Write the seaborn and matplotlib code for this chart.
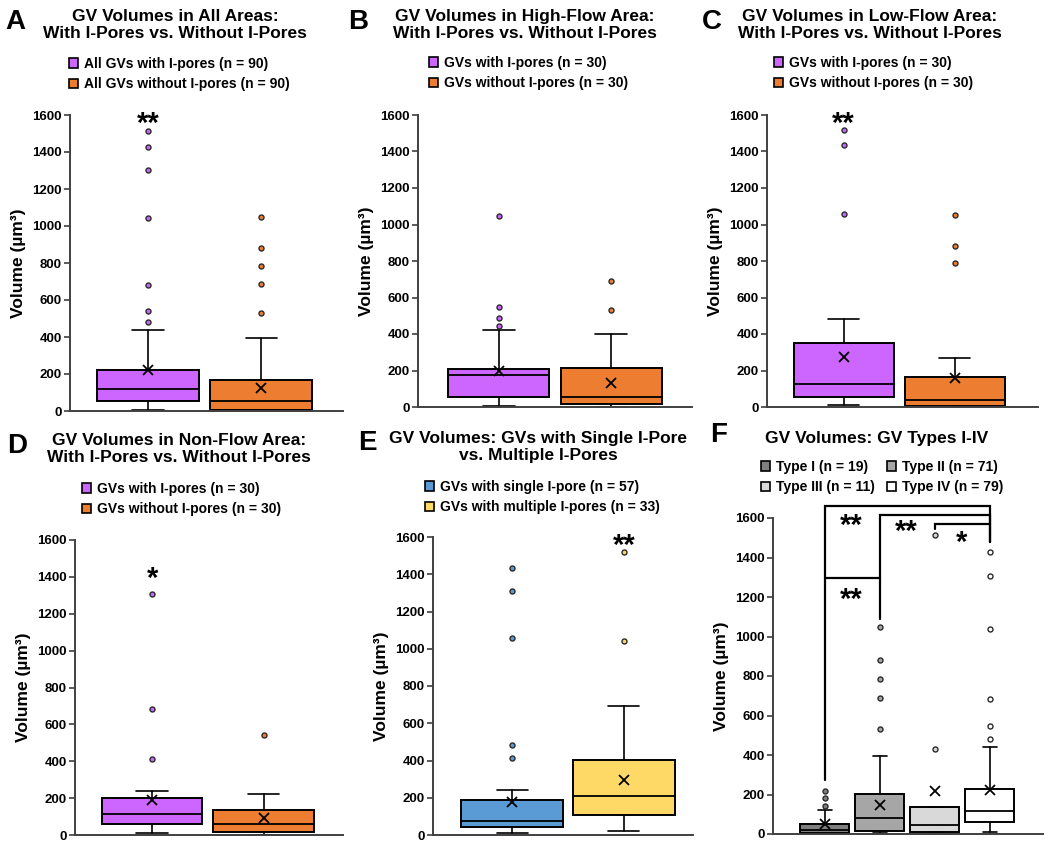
import seaborn as sns
import matplotlib.pyplot as plt
from matplotlib.patches import Patch

sns.set_style('ticks')
plt.rcParams['font.family'] = ['Liberation Sans', 'DejaVu Sans']
plt.rcParams['font.weight'] = 'bold'
plt.rcParams['text.color'] = 'black'
plt.rcParams['axes.labelcolor'] = 'black'
plt.rcParams['ytick.color'] = 'black'

# five-number summaries: whisker low, q1, median, q3, whisker high
a_labels = ['All GVs with I-pores (n = 90)', 'All GVs without I-pores (n = 90)']
a_stats = [[4, 54, 117, 220, 437], [0, 7, 54, 170, 393]]
a_means = [220, 125]
a_outliers = [[482, 541, 682, 1041, 1305, 1429, 1513], [529, 686, 785, 879, 1049]]

b_labels = ['GVs with I-pores (n = 30)', 'GVs without I-pores (n = 30)']
b_stats = [[7, 55, 173, 208, 423], [0, 18, 55, 215, 398]]
b_means = [199, 131]
b_outliers = [[442, 487, 547, 1046], [533, 692]]

c_labels = ['GVs with I-pores (n = 30)', 'GVs without I-pores (n = 30)']
c_stats = [[9, 55, 124, 349, 484], [0, 4, 36, 162, 266]]
c_means = [276, 159]
c_outliers = [[1060, 1434, 1518], [788, 881, 1051]]

d_labels = ['GVs with I-pores (n = 30)', 'GVs without I-pores (n = 30)']
d_stats = [[13, 60, 116, 202, 240], [0, 18, 58, 134, 221]]
d_means = [190, 92]
d_outliers = [[414, 683, 1309], [541]]

e_labels = ['GVs with single I-pore (n = 57)', 'GVs with multiple I-pores (n = 33)']
e_stats = [[9, 45, 75, 186, 242], [20, 106, 211, 403, 690]]
e_means = [176, 296]
e_outliers = [[414, 484, 1057, 1308, 1432], [1043, 1518]]

f_labels = ['Type I (n = 19)', 'Type II (n = 71)', 'Type III (n = 11)', 'Type IV (n = 79)']
f_stats = [[0, 5, 18, 52, 123], [5, 17, 81, 202, 396],
           [12, 12, 45, 136, 136], [8, 61, 116, 227, 439]]
f_means = [49, 145, 219, 224]
f_outliers = [[140, 180, 220], [530, 688, 786, 880, 1049],
              [431, 1515], [483, 545, 684, 1040, 1306, 1429]]

# significance marks: (box position, y, text)
a_sig = [(0, 1600, '**')]
c_sig = [(0, 1600, '**')]
d_sig = [(0, 1440, '*')]
e_sig = [(1, 1600, '**')]
f_sig = [(0.48, 1610, '**'), (1.48, 1580, '**'), (2.48, 1525, '*'), (0.48, 1235, '**')]
# brackets: (left, right, top, left foot, right foot)
f_brackets = [(0, 3, 1660, 274, 1476), (1, 3, 1616, 1091, 1476),
              (2, 3, 1569, 1545, 1569), (0, 1, 1296, 1296, 1296)]

purple, orange = '#cc66ff', '#ed7d31'
blue, yellow = '#5b9bd5', '#ffd966'
grays = ['#7f7f7f', '#a6a6a6', '#d9d9d9', '#ffffff']

W, H = 1050, 848
fig = plt.figure(figsize=(W / 100, H / 100), dpi=100)


def px_axes(l, r, t, b):
    return fig.add_axes([l / W, 1 - b / H, (r - l) / W, (b - t) / H])


def panel(ax, stats, means, outliers, colors, xlim, width, capw):
    bstats = []
    for s, m, o in zip(stats, means, outliers):
        bstats.append(dict(whislo=s[0], q1=s[1], med=s[2], q3=s[3], whishi=s[4],
                           mean=m, fliers=o))
    art = ax.bxp(bstats, positions=range(len(stats)), widths=width,
                 patch_artist=True, showmeans=True, capwidths=capw,
                 boxprops=dict(edgecolor='black', linewidth=1.4),
                 medianprops=dict(color='black', linewidth=1.3),
                 whiskerprops=dict(color='black', linewidth=1.2),
                 capprops=dict(color='black', linewidth=1.2),
                 meanprops=dict(marker='x', markeredgecolor='black',
                                markersize=7, markeredgewidth=1.3),
                 flierprops=dict(marker='o', markersize=3.6, markeredgecolor='#2a2a2a',
                                 markeredgewidth=1))
    for box, fl, col in zip(art['boxes'], art['fliers'], colors):
        box.set_facecolor(col)
        fl.set_markerfacecolor(col)
    ax.set_xlim(*xlim)
    ax.set_ylim(0, 1600)
    ax.set_yticks(range(0, 1601, 200))
    ax.set_xticks([])
    ax.tick_params(axis='y', labelsize=9.5, length=4, width=1.2, color='#404040', pad=2)
    for lab in ax.get_yticklabels():
        lab.set_fontweight('bold')
    for side in ['top', 'right']:
        ax.spines[side].set_visible(False)
    for side in ['left', 'bottom']:
        ax.spines[side].set_color('#404040')
        ax.spines[side].set_linewidth(1.4)
    ax.set_ylabel('Volume (µm³)', fontsize=12.5, fontweight='bold', labelpad=4)


def add_legend(ax, labels, colors, x, y, ncol=1):
    handles = [Patch(facecolor=c, edgecolor='black', linewidth=1.2) for c in colors]
    if ncol == 2:
        handles = [handles[0], handles[2], handles[1], handles[3]]
        labels = [labels[0], labels[2], labels[1], labels[3]]
    ax.legend(handles, labels, loc='upper left', bbox_to_anchor=(x / W, 1 - y / H),
              bbox_transform=fig.transFigure, frameon=False, ncol=ncol,
              prop=dict(size=10, weight='bold'), handlelength=0.65, handleheight=0.65,
              handletextpad=0.4, labelspacing=0.45, borderpad=0, borderaxespad=0,
              columnspacing=0.9)


def add_sig(ax, marks):
    # asterisks sit high in the glyph box, so anchor them lower
    for x, y, t in marks:
        ax.text(x, y - 50, t, ha='center', va='center', fontsize=21, fontweight='bold',
                clip_on=False)


titles = [
    ('A', 15, 22, 175, 25, 'GV Volumes in All Areas:\nWith I-Pores vs. Without I-Pores'),
    ('B', 358, 22, 525, 25, 'GV Volumes in High-Flow Area:\nWith I-Pores vs. Without I-Pores'),
    ('C', 712, 22, 870, 25, 'GV Volumes in Low-Flow Area:\nWith I-Pores vs. Without I-Pores'),
    ('D', 17, 446, 179, 449, 'GV Volumes in Non-Flow Area:\nWith I-Pores vs. Without I-Pores'),
    ('E', 367, 443, 538, 447, 'GV Volumes: GVs with Single I-Pore\nvs. Multiple I-Pores'),
    ('F', 719, 435, 877, 438, 'GV Volumes: GV Types I-IV'),
]
for letter, lx, ly, tx, ty, title in titles:
    fig.text(lx / W, 1 - ly / H, letter, fontsize=20, fontweight='bold',
             ha='center', va='center')
    fig.text(tx / W, 1 - ty / H, title, fontsize=12.5, fontweight='bold',
             ha='center', va='center', linespacing=1.2)

ax = px_axes(70, 343, 115, 411)
panel(ax, a_stats, a_means, a_outliers, [purple, orange], (-0.69, 1.72), 0.9, 0.28)
add_legend(ax, a_labels, [purple, orange], 69, 57)
add_sig(ax, a_sig)

ax = px_axes(418, 692, 115, 407)
panel(ax, b_stats, b_means, b_outliers, [purple, orange], (-0.72, 1.72), 0.9, 0.28)
add_legend(ax, b_labels, [purple, orange], 429, 56)

ax = px_axes(767, 1038, 115, 407)
panel(ax, c_stats, c_means, c_outliers, [purple, orange], (-0.69, 1.75), 0.9, 0.28)
add_legend(ax, c_labels, [purple, orange], 774, 56)
add_sig(ax, c_sig)

ax = px_axes(75, 343, 540, 835)
panel(ax, d_stats, d_means, d_outliers, [purple, orange], (-0.69, 1.71), 0.9, 0.28)
add_legend(ax, d_labels, [purple, orange], 82, 482)
add_sig(ax, d_sig)

ax = px_axes(433, 693, 537, 835)
panel(ax, e_stats, e_means, e_outliers, [blue, yellow], (-0.71, 1.62), 0.91, 0.28)
add_legend(ax, e_labels, [blue, yellow], 425, 480)
add_sig(ax, e_sig)

ax = px_axes(773, 1043, 518, 834)
panel(ax, f_stats, f_means, f_outliers, grays, (-0.94, 3.97), 0.88, 0.26)
add_legend(ax, f_labels, grays, 761, 460, ncol=2)
for l, r, top, lb, rb in f_brackets:
    ax.plot([l, l, r, r], [lb, top, top, rb], color='black', lw=1.6, clip_on=False,
            solid_joinstyle='miter')
add_sig(ax, f_sig)

fig.savefig('out.png', dpi=100)
